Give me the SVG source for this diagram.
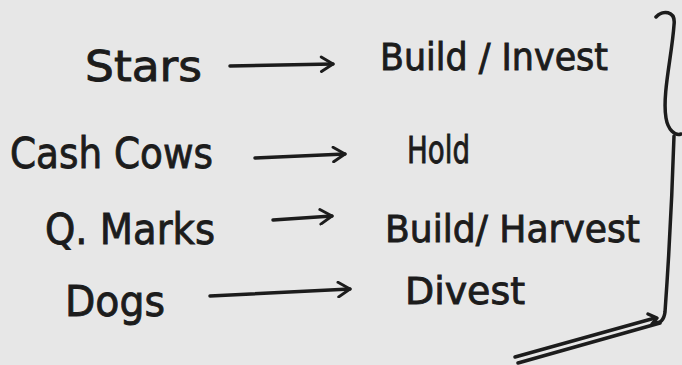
<svg xmlns="http://www.w3.org/2000/svg" width="682" height="365" viewBox="0 0 682 365">
<style>
.t{font-family:"DejaVu Sans","Liberation Sans",sans-serif;fill:#1c1c1c;stroke:#1c1c1c;stroke-width:0.9;font-size:42px}
.r{font-size:37px}
.c{fill:none;stroke:#1c1c1c;stroke-width:3.5;stroke-linecap:round;stroke-linejoin:round}
</style>
<defs>
<marker id="ah" viewBox="0 0 12 12" refX="10" refY="6" markerWidth="5" markerHeight="5" orient="auto" markerUnits="strokeWidth">
<path d="M2,1 L10,6 L2,11" fill="none" stroke="#1c1c1c" stroke-width="2" stroke-linecap="round" stroke-linejoin="round"/>
</marker>
</defs>
<rect width="682" height="365" fill="#e7e7e7"/>
<g id="stars"><text class="t" x="85" y="81" textLength="117" lengthAdjust="spacingAndGlyphs">Stars</text></g>
<g id="build-invest"><text class="t r" x="380" y="70" textLength="228" lengthAdjust="spacingAndGlyphs">Build / Invest</text></g>
<g id="cash-cows"><text class="t" x="10" y="168" textLength="203" lengthAdjust="spacingAndGlyphs">Cash Cows</text></g>
<g id="hold"><text class="t r" x="407" y="163" textLength="63" lengthAdjust="spacingAndGlyphs">Hold</text></g>
<g id="q-marks"><text class="t" x="45" y="244" textLength="170" lengthAdjust="spacingAndGlyphs">Q. Marks</text></g>
<g id="build-harvest"><text class="t r" x="385" y="242" textLength="255" lengthAdjust="spacingAndGlyphs">Build/ Harvest</text></g>
<g id="dogs"><text class="t" x="65" y="316" font-size="46" textLength="100" lengthAdjust="spacingAndGlyphs">Dogs</text></g>
<g id="divest"><text class="t r" x="405" y="304" textLength="120" lengthAdjust="spacingAndGlyphs">Divest</text></g>
<g id="connectors">
<path class="c" d="M230,66 L333,64" marker-end="url(#ah)"/>
<path class="c" d="M255,158 L345,154" marker-end="url(#ah)"/>
<path class="c" d="M273,220 L332,216" marker-end="url(#ah)"/>
<path class="c" d="M210,296 L350,289" marker-end="url(#ah)"/>
<path class="c" d="M656,17 C662,10 676,10 674,25 C672,55 662,95 666,118 C668,130 675,136 681,134"/>
<path class="c" d="M674,136 C672,200 668,270 665,312 C664,320 660,324 655,322"/>
<path class="c" d="M515,357 L655,318"/>
<path class="c" d="M518,363 L660,323"/>
<path class="c" d="M648,314 L657,318 L652,324"/>
</g>
</svg>
